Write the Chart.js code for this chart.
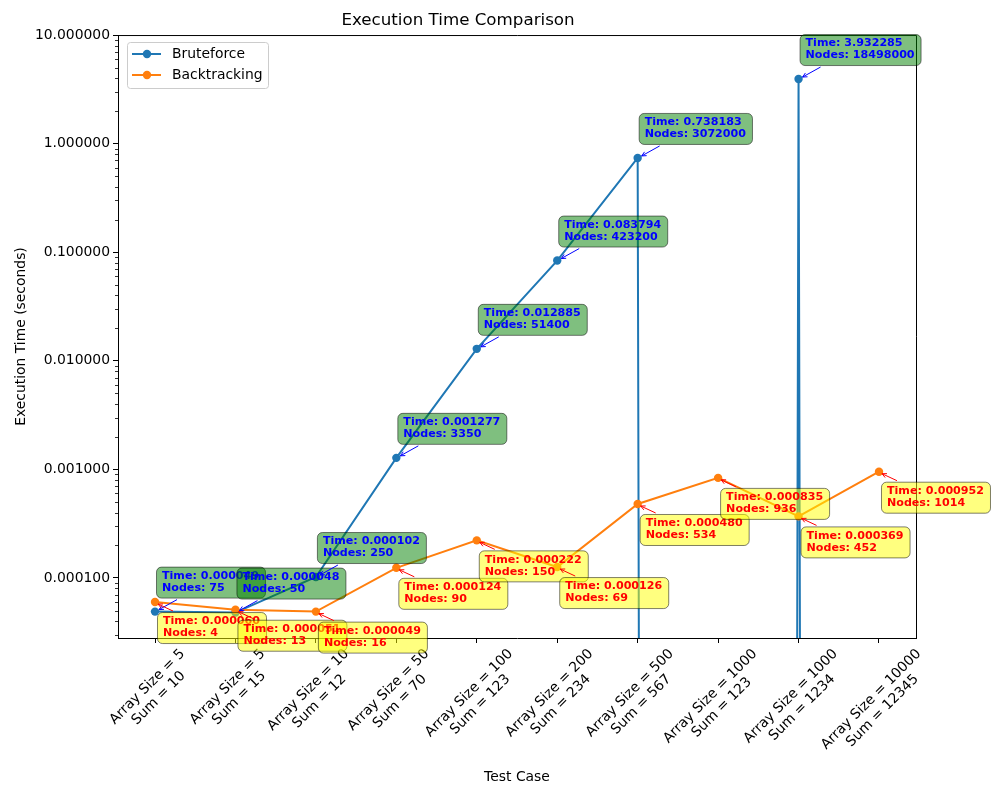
<!DOCTYPE html>
<html>
<head>
<meta charset="utf-8">
<script src="https://cdn.jsdelivr.net/npm/chart.js@4.4.1/dist/chart.umd.min.js"></script>
<style>
  body { margin: 0; background: #fff; }
  #wrap { width: 1000px; height: 800px; }
</style>
</head>
<body>
<div id="wrap"><canvas id="chart"></canvas></div>
<script>
// data
var arraySizes = [5, 5, 10, 50, 100, 200, 500, 1000, 1000, 10000];
var sums = [10, 15, 12, 70, 123, 234, 567, 123, 1234, 12345];
var bruteTime = [0.000049, 0.000048, 0.000102, 0.001277, 0.012885, 0.083794, 0.738183, 0, 3.932285, 0];
var bruteNodes = [75, 50, 250, 3350, 51400, 423200, 3072000, 0, 18498000, 0];
var backTime = [0.000060, 0.000051, 0.000049, 0.000124, 0.000222, 0.000126, 0.000480, 0.000835, 0.000369, 0.000952];
var backNodes = [4, 13, 16, 90, 150, 69, 534, 936, 452, 1014];
var yTicks = [0.0001, 0.001, 0.01, 0.1, 1, 10];

var labels = arraySizes.map(function (a, i) {
    return ['Array Size = ' + a, 'Sum = ' + sums[i]];
});

// zero times fall off the bottom of a log axis (like matplotlib clipping)
var bruteData = bruteTime.map(function (v, i) { return { x: i, y: v > 0 ? v : Number.MIN_VALUE }; });
var backData = backTime.map(function (v, i) { return { x: i, y: v }; });

var FONT = '"DejaVu Sans", sans-serif';
Chart.defaults.font.family = FONT;
Chart.defaults.color = '#000';

function drawArrow(ctx, x1, y1, x2, y2, color) {
    var ang = Math.atan2(y2 - y1, x2 - x1), L = 5, s = 0.45;
    ctx.strokeStyle = color;
    ctx.lineWidth = 1;
    ctx.beginPath();
    ctx.moveTo(x1, y1);
    ctx.lineTo(x2, y2);
    ctx.moveTo(x2 - L * Math.cos(ang - s), y2 - L * Math.sin(ang - s));
    ctx.lineTo(x2, y2);
    ctx.lineTo(x2 - L * Math.cos(ang + s), y2 - L * Math.sin(ang + s));
    ctx.stroke();
}

function drawNote(ctx, px, py, lines, fill, color, above) {
    ctx.font = 'bold 11.1px ' + FONT;
    var w = Math.max(ctx.measureText(lines[0]).width, ctx.measureText(lines[1]).width);
    var bw = w + 12, bh = 31;
    var bx = px + (above ? 1 : 2);
    var by = above ? py - 14 - bh : py + 10;
    if (above) drawArrow(ctx, px + 22, py - 12, px + 4, py - 2, color);
    else drawArrow(ctx, px + 18, py + 9, px + 3, py + 2, color);
    ctx.beginPath();
    ctx.roundRect(bx + 0.5, by + 0.5, bw, bh, 5);
    ctx.fillStyle = fill;
    ctx.fill();
    ctx.strokeStyle = 'rgba(0,0,0,0.5)';
    ctx.lineWidth = 1;
    ctx.stroke();
    ctx.fillStyle = color;
    ctx.textAlign = 'left';
    ctx.textBaseline = 'middle';
    ctx.fillText(lines[0], bx + 6, by + 9.5);
    ctx.fillText(lines[1], bx + 6, by + 21.5);
}

var extras = {
    id: 'extras',
    afterDraw: function (chart) {
        var ctx = chart.ctx, a = chart.chartArea;
        var xs = chart.scales.x, ys = chart.scales.y;
        ctx.save();

        // frame top and right
        ctx.strokeStyle = '#000';
        ctx.lineWidth = 1;
        ctx.beginPath();
        ctx.moveTo(a.left, a.top + 0.5);
        ctx.lineTo(a.right + 0.5, a.top + 0.5);
        ctx.lineTo(a.right + 0.5, a.bottom);
        ctx.stroke();

        // minor log ticks
        ctx.lineWidth = 0.8;
        ctx.beginPath();
        for (var d = 1e-5; d < 10; d *= 10) {
            for (var m = 2; m <= 9; m++) {
                var v = m * d;
                if (v < ys.min || v > ys.max) continue;
                var y = Math.round(ys.getPixelForValue(v)) + 0.5;
                ctx.moveTo(a.left - 3, y);
                ctx.lineTo(a.left, y);
            }
        }
        ctx.stroke();

        // rotated x labels
        ctx.font = '13.9px ' + FONT;
        ctx.fillStyle = '#000';
        ctx.textAlign = 'center';
        ctx.textBaseline = 'middle';
        var lh = 16;
        labels.forEach(function (lines, i) {
            var px = xs.getPixelForValue(i);
            var W = Math.max(ctx.measureText(lines[0]).width, ctx.measureText(lines[1]).width);
            var half = (W / 2 + lh) * Math.SQRT1_2;
            ctx.save();
            ctx.translate(px - 2, a.bottom + 8 + half);
            ctx.rotate(-Math.PI / 4);
            ctx.fillText(lines[0], 0, -lh / 2);
            ctx.fillText(lines[1], 0, lh / 2);
            ctx.restore();
        });

        // annotations
        bruteTime.forEach(function (v, i) {
            if (!(v > 0)) return;
            drawNote(ctx, xs.getPixelForValue(i), ys.getPixelForValue(v),
                ['Time: ' + v.toFixed(6), 'Nodes: ' + bruteNodes[i]],
                'rgba(0,128,0,0.5)', '#0000ff', true);
        });
        backTime.forEach(function (v, i) {
            drawNote(ctx, xs.getPixelForValue(i), ys.getPixelForValue(v),
                ['Time: ' + v.toFixed(6), 'Nodes: ' + backNodes[i]],
                'rgba(255,255,0,0.5)', '#ff0000', false);
        });

        // legend
        ctx.beginPath();
        ctx.roundRect(127.5, 42.5, 141, 46, 3);
        ctx.fillStyle = 'rgba(255,255,255,0.8)';
        ctx.fill();
        ctx.strokeStyle = '#cccccc';
        ctx.lineWidth = 1;
        ctx.stroke();
        var items = [['Bruteforce', '#1f77b4', 54], ['Backtracking', '#ff7f0e', 75]];
        items.forEach(function (it) {
            ctx.strokeStyle = it[1];
            ctx.lineWidth = 2;
            ctx.beginPath();
            ctx.moveTo(132, it[2]);
            ctx.lineTo(161, it[2]);
            ctx.stroke();
            ctx.fillStyle = it[1];
            ctx.beginPath();
            ctx.arc(147, it[2], 4.2, 0, Math.PI * 2);
            ctx.fill();
            ctx.fillStyle = '#000';
            ctx.font = '13.9px ' + FONT;
            ctx.textAlign = 'left';
            ctx.textBaseline = 'middle';
            ctx.fillText(it[0], 172, it[2]);
        });

        ctx.restore();
    }
};

new Chart(document.getElementById('chart'), {
    type: 'line',
    data: {
        datasets: [{
            label: 'Bruteforce',
            data: bruteData,
            borderColor: '#1f77b4',
            backgroundColor: '#1f77b4',
            borderWidth: 2,
            pointRadius: function (c) { return bruteTime[c.dataIndex] > 0 ? 4.2 : 0; },
            pointBorderWidth: 0,
            order: 2
        }, {
            label: 'Backtracking',
            data: backData,
            borderColor: '#ff7f0e',
            backgroundColor: '#ff7f0e',
            borderWidth: 2,
            pointRadius: 4.2,
            pointBorderWidth: 0,
            order: 1
        }]
    },
    options: {
        responsive: true,
        maintainAspectRatio: false,
        animation: false,
        layout: { padding: { right: 84 } },
        plugins: {
            legend: { display: false },
            tooltip: { enabled: false },
            title: {
                display: true,
                text: 'Execution Time Comparison',
                color: '#000',
                font: { size: 16.7, weight: 'normal' },
                padding: { top: 11, bottom: 4 }
            }
        },
        scales: {
            x: {
                type: 'linear',
                min: -0.46,
                max: 9.46,
                afterBuildTicks: function (s) {
                    s.ticks = labels.map(function (l, i) { return { value: i }; });
                },
                ticks: { display: false },
                grid: { drawOnChartArea: false, tickLength: 5, color: '#000', tickColor: '#000' },
                border: { color: '#000', width: 1 },
                afterFit: function (s) { s.height = 162; },
                title: {
                    display: true, text: 'Test Case', color: '#000',
                    font: { size: 13.9 }, padding: { top: 0, bottom: 14.6 }
                }
            },
            y: {
                type: 'logarithmic',
                min: 2.8e-5,
                max: 10,
                afterBuildTicks: function (s) {
                    s.ticks = yTicks.map(function (v) { return { value: v }; });
                },
                afterFit: function (s) { s.width = 118; },
                ticks: {
                    callback: function (v) { return Number(v).toFixed(6); },
                    color: '#000',
                    font: { size: 13.9 },
                    padding: 3
                },
                grid: { drawOnChartArea: false, tickLength: 5, color: '#000', tickColor: '#000' },
                border: { color: '#000', width: 1 },
                title: {
                    display: true, text: 'Execution Time (seconds)', color: '#000',
                    font: { size: 13.9 }, padding: { top: 12.6, bottom: 0 }
                }
            }
        }
    },
    plugins: [extras]
});
</script>
</body>
</html>
